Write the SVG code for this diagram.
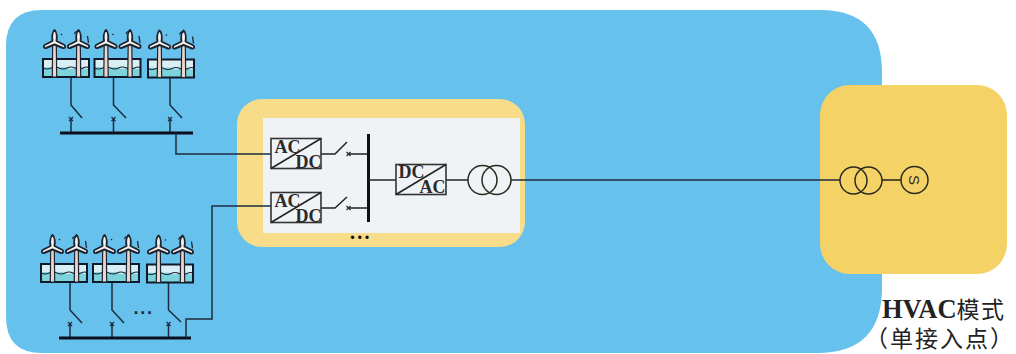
<svg xmlns="http://www.w3.org/2000/svg" xmlns:xlink="http://www.w3.org/1999/xlink" width="1016" height="354" viewBox="0 0 1016 354">
<style>
.w{fill:none;stroke:#1c2b3e;stroke-width:1.5}
.k{fill:none;stroke:#222;stroke-width:1.5}
.bus{fill:none;stroke:#0c0f1c;stroke-width:3}
.box{fill:#f0f3f5;stroke:#333;stroke-width:1.6}
.c{fill:none;stroke:#2c2a20;stroke-width:1.5}
.t{font-family:"Liberation Serif",serif;font-weight:bold;font-size:18px;fill:#2a2a2a}
.lab{font-family:"Liberation Serif","Noto Sans CJK SC",serif;font-size:23px;fill:#222}
.blade{fill:#f7f2ea;stroke:#1c2433;stroke-width:1.9;stroke-linejoin:round}
.tower{fill:#ecd6c8;stroke:#1c2433;stroke-width:1.2}
.hook{fill:none;stroke:#1c2433;stroke-width:1.3}
</style>
<defs>
<g id="turbine">
<path class="tower" d="M-2.200 42 L-1.800 8 L1.800 8 L2.200 42Z"/>
<path class="blade" d="M0 -5 C2.500 -3 2.500 3 2 6 L10 10 C11.500 12 10 13.500 8.500 13 L0 9.500 L-8.500 13 C-10 13.500 -11.500 12 -10 10 L-2 6 C-2.500 3 -2.500 -3 0 -5Z"/>
</g>
<g id="turbine-dot">
<use xlink:href="#turbine" href="#turbine"/>
<circle cx="7" cy="-0.500" r="0.800" fill="#1c2433"/>
</g>
<g id="turbine-hook">
<use xlink:href="#turbine" href="#turbine"/>
<path class="hook" d="M-4 -1 C-3 -4 -1 -4 0 -3 M9 1 L10 8"/>
</g>
<g id="farm">
<rect x="0" y="0" width="46" height="18" fill="#d8eff3"/>
<path d="M0 9 q4 -2 8 0 t8 0 t8 0 t8 0 t8 0 t6 0 V18 H0Z" fill="#7dd3dc"/>
<path d="M0 9 q4 2 8 0 t8 0 t8 0 t8 0 t8 0 t6 0" fill="none" stroke="#1c2433" stroke-width="1.200"/>
<rect x="0" y="0" width="46" height="18" fill="none" stroke="#10182a" stroke-width="2"/>
<use xlink:href="#turbine-dot" href="#turbine-dot" x="11.500" y="-24"/>
<use xlink:href="#turbine-hook" href="#turbine-hook" x="35.500" y="-24"/>
</g>
<g id="brk"><path d="M-2 -2 L2 2 M2 -2 L-2 2" stroke="#1c2b3e" stroke-width="1.200"/></g>
</defs>

<g id="background">
<path d="M42 10 H820 Q882 10 882 72 V288 Q882 353 817 353 H42 Q6 353 6 317 V46 Q6 10 42 10Z" fill="#66c1ec"/>
</g>

<g id="offshore-station">
<rect x="237" y="99" width="288" height="148" rx="25" fill="#f7dc8a"/>
<rect x="263" y="118" width="257" height="115" fill="#f0f3f5"/>
</g>
<g id="onshore-grid">
<rect x="820" y="85" width="187" height="189" rx="30" fill="#f5d266"/>
</g>

<g id="connectors">
<path class="w" d="M71 77 V105 L82 118 M71 133 V120"/>
<path class="w" d="M113.500 77 V105 L126 118 M113.500 133 V120"/>
<path class="w" d="M170 77 V105 L182 118 M170 133 V120"/>
<path class="bus" d="M60 133 H193"/>
<path class="w" d="M176 133 V154 H271"/>
<path class="w" d="M70 282 V310 L82 323 M70 338 V325"/>
<path class="w" d="M112 282 V310 L124 323 M112 338 V325"/>
<path class="w" d="M168.500 282 V310 L181 322 M168.500 338 V325"/>
<path class="bus" d="M59 338 H191"/>
<path class="w" d="M186 338 V319 H212 V206 H271"/>
<path class="k" d="M321 154 H335 L347 142 M349 154 H368"/>
<path class="k" d="M321 208 H335 L347 197 M349 208 H368"/>
<path class="bus" d="M368.500 134 V222"/>
<path class="k" d="M368 180 H396"/>
<path class="k" d="M446 180 H468"/>
<path class="w" d="M511 180 H840"/>
<path class="k" d="M882 180 H901"/>
<use xlink:href="#brk" href="#brk" x="71" y="119"/>
<use xlink:href="#brk" href="#brk" x="113.500" y="119"/>
<use xlink:href="#brk" href="#brk" x="170" y="119"/>
<use xlink:href="#brk" href="#brk" x="70" y="324"/>
<use xlink:href="#brk" href="#brk" x="112" y="324"/>
<use xlink:href="#brk" href="#brk" x="168.500" y="324"/>
<use xlink:href="#brk" href="#brk" x="348.500" y="154"/>
<use xlink:href="#brk" href="#brk" x="348.500" y="208"/>
</g>

<g id="farm-t1"><use xlink:href="#farm" href="#farm" x="43" y="59"/></g>
<g id="farm-t2"><use xlink:href="#farm" href="#farm" x="94.500" y="59"/></g>
<g id="farm-t3"><use xlink:href="#farm" href="#farm" x="148" y="59.500"/></g>
<g id="farm-b1"><use xlink:href="#farm" href="#farm" x="41" y="264"/></g>
<g id="farm-b2"><use xlink:href="#farm" href="#farm" x="93" y="264"/></g>
<g id="farm-b3"><use xlink:href="#farm" href="#farm" x="147" y="264.500"/></g>

<g id="conv1">
<rect class="box" x="271" y="138.500" width="50" height="30"/>
<path class="k" d="M271 168.500 L321 138.500"/>
<text class="t" x="274.500" y="153">AC</text><text class="t" x="295.500" y="167.500">DC</text>
</g>
<g id="conv2">
<rect class="box" x="271" y="192.500" width="50" height="30"/>
<path class="k" d="M271 222.500 L321 192.500"/>
<text class="t" x="274.500" y="206.500">AC</text><text class="t" x="295.500" y="221.500">DC</text>
</g>
<g id="conv3">
<rect class="box" x="396" y="164.500" width="50" height="30"/>
<path class="k" d="M396 194.500 L446 164.500"/>
<text class="t" x="398.500" y="178">DC</text><text class="t" x="419.500" y="193">AC</text>
</g>
<g id="trafo1">
<circle class="c" cx="482.500" cy="180" r="14.500"/><circle class="c" cx="496.500" cy="180" r="14.500"/>
</g>
<g id="trafo2">
<circle class="c" cx="853.500" cy="180.500" r="13.500"/><circle class="c" cx="868.500" cy="180.500" r="13.500"/>
</g>
<g id="source">
<circle class="c" cx="914.500" cy="180" r="13.500"/>
<text transform="translate(909 180) rotate(90)" text-anchor="middle" style="font-family:'Liberation Sans',sans-serif;font-size:15px;fill:#2c2a20">S</text>
</g>

<text style="font-family:'Liberation Serif',serif;font-weight:bold;font-size:20px;letter-spacing:2.300px;fill:#111" x="350" y="239">...</text>
<text style="font-family:'Liberation Sans',sans-serif;font-weight:bold;font-size:18px;letter-spacing:1.700px;fill:#1c2b3e" x="133.500" y="314">...</text>

<g id="label">
<text class="lab" x="882" y="318"><tspan font-weight="bold" font-size="26.500">HVAC</tspan><tspan letter-spacing="1.500">模式</tspan></text>
<text class="lab" x="865" y="347" letter-spacing="2">（单接入点）</text>
</g>
</svg>
